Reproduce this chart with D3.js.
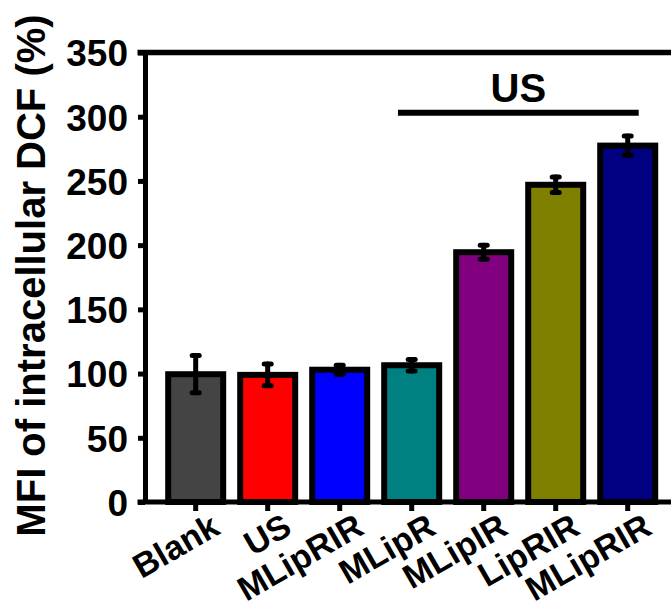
<!DOCTYPE html>
<html>
<head>
<meta charset="utf-8">
<script src="https://cdn.jsdelivr.net/npm/d3@7"></script>
<style>
  body { margin: 0; background: #fff; }
  svg text { font-family: "Liberation Sans", Arial, sans-serif; font-weight: bold; fill: #000; }
</style>
</head>
<body>
<div id="chart"></div>
<script>
// data
const groups = ["Blank", "US", "MLipRIR", "MLipR", "MLipIR", "LipRIR", "MLipRIR "];
const means = [99.5, 99, 103, 106.5, 194.5, 247, 277.5];
const errors = [14.5, 8.5, 3.5, 4.5, 5.5, 6, 7.5];
const colors = ["#444444", "#ff0000", "#0000ff", "#008080", "#800080", "#808000", "#000080"];
const yTicks = [0, 50, 100, 150, 200, 250, 300, 350];
const usGroups = ["MLipR", "MLipRIR "]; // bracket under "US" label
const usLevel = 303;

const width = 671, height = 602;
const svg = d3.select("#chart").append("svg")
    .attr("width", width)
    .attr("height", height);

const x = d3.scaleBand()
    .domain(groups)
    .range([145, 678.4])
    .paddingInner(0.236)
    .paddingOuter(0.322);

const y = d3.scaleLinear()
    .domain([0, 350])
    .range([502, 52.5]);

// y axis
const yAxis = svg.append("g")
    .attr("transform", "translate(145,0)")
    .call(d3.axisLeft(y).tickValues(yTicks).tickSize(7).tickSizeOuter(0).tickPadding(10));
yAxis.select(".domain").attr("stroke", "#000").attr("stroke-width", 5);
yAxis.selectAll(".tick line").attr("stroke", "#000").attr("stroke-width", 5);
yAxis.selectAll(".tick text")
    .style("font-size", "37px")
    .attr("dy", "0.36em");

// top frame line and x axis line
svg.append("line")
    .attr("x1", 137.5).attr("x2", width)
    .attr("y1", y(350)).attr("y2", y(350))
    .attr("stroke", "#000").attr("stroke-width", 5.5);
svg.append("line")
    .attr("x1", 137.5).attr("x2", width)
    .attr("y1", y(0)).attr("y2", y(0))
    .attr("stroke", "#000").attr("stroke-width", 5);

// bars
svg.selectAll("rect.bar")
    .data(groups)
    .enter()
    .append("rect")
    .attr("class", "bar")
    .attr("x", d => x(d))
    .attr("width", x.bandwidth())
    .attr("y", (d, i) => y(means[i]))
    .attr("height", (d, i) => y(0) - y(means[i]))
    .attr("fill", (d, i) => colors[i])
    .attr("stroke", "#000")
    .attr("stroke-width", 6);

// error bars
const eb = svg.selectAll("g.err")
    .data(groups)
    .enter()
    .append("g")
    .attr("class", "err")
    .attr("stroke", "#000")
    .attr("stroke-width", 5)
    .attr("stroke-linecap", "round");
eb.append("line")
    .attr("x1", d => x(d) + x.bandwidth() / 2)
    .attr("x2", d => x(d) + x.bandwidth() / 2)
    .attr("y1", (d, i) => y(means[i] + errors[i]))
    .attr("y2", (d, i) => y(means[i] - errors[i]));
[1, -1].forEach(s => {
    eb.append("line")
        .attr("x1", d => x(d) + x.bandwidth() / 2 - 3.5)
        .attr("x2", d => x(d) + x.bandwidth() / 2 + 3.5)
        .attr("y1", (d, i) => y(means[i] + s * errors[i]))
        .attr("y2", (d, i) => y(means[i] + s * errors[i]));
});

// x axis ticks and rotated labels
const xAxis = svg.append("g")
    .attr("transform", `translate(0,${y(0)})`)
    .call(d3.axisBottom(x).tickSize(9).tickSizeOuter(0));
xAxis.select(".domain").remove();
xAxis.selectAll(".tick line").attr("stroke", "#000").attr("stroke-width", 5);
xAxis.selectAll(".tick text")
    .text(d => d.trim())
    .attr("y", 0)
    .attr("dy", 0)
    .attr("text-anchor", "end")
    .attr("transform", "translate(26,31) rotate(-30)")
    .style("font-size", "34px");

// US bracket
const x1 = x(usGroups[0]) + x.bandwidth() * 0.25;
const x2 = x(usGroups[1]) + x.bandwidth() * 0.7;
svg.append("line")
    .attr("x1", x1).attr("x2", x2)
    .attr("y1", y(usLevel)).attr("y2", y(usLevel))
    .attr("stroke", "#000").attr("stroke-width", 6);
svg.append("text")
    .attr("x", (x1 + x2) / 2)
    .attr("y", y(usLevel) - 11)
    .attr("text-anchor", "middle")
    .style("font-size", "40px")
    .text("US");

// y axis title
svg.append("text")
    .attr("transform", "translate(45,275.5) rotate(-90)")
    .attr("text-anchor", "middle")
    .style("font-size", "40px")
    .text("MFI of intracellular DCF (%)");
</script>
</body>
</html>
